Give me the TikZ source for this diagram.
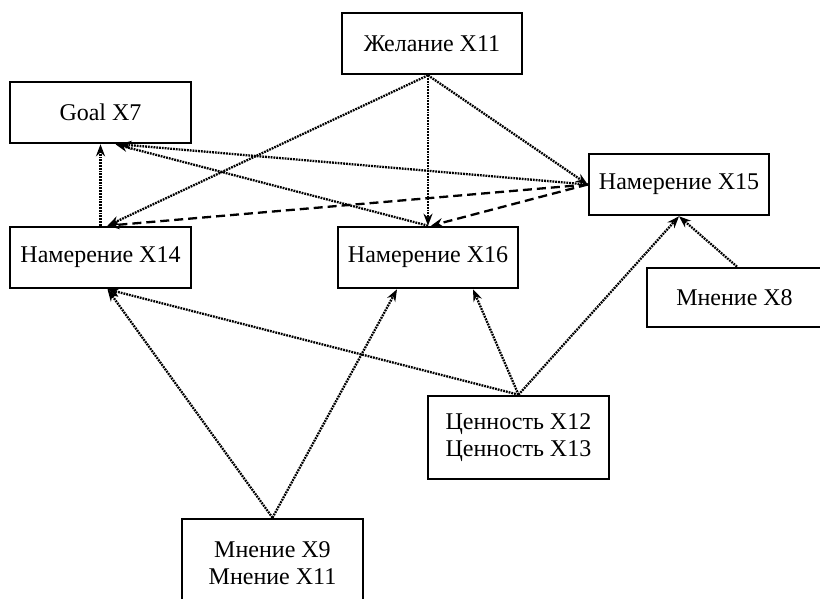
\documentclass[tikz,border=0pt]{standalone}
\usepackage{fontspec}
\setmainfont{Liberation Serif}
\usetikzlibrary{arrows.meta}
\begin{document}
\begin{tikzpicture}[x=1pt,y=-1pt,
  box/.style={draw, line width=2.6pt, rectangle, inner sep=0pt, align=center,
    font=\fontsize{24}{27}\selectfont},
  dotarrow/.style={line width=2.3pt, dash pattern=on 1.8pt off 1.0pt,
    -{Stealth[length=12pt,width=9pt]}},
  dasharrow/.style={line width=2.3pt, dash pattern=on 9pt off 5pt,
    -{Stealth[length=12pt,width=9pt]}}]
\useasboundingbox (0,0) rectangle (820,599);
\node[box, minimum width=180pt, minimum height=61pt] (des) at (432,43.5) {Желание X11};
\node[box, minimum width=181pt, minimum height=61pt] (goal) at (100.5,112.5) {Goal X7};
\node[box, minimum width=180pt, minimum height=61pt] (x15) at (679,184.5) {Намерение X15};
\node[box, minimum width=181pt, minimum height=61pt] (x14) at (100.5,257.5) {Намерение X14};
\node[box, minimum width=180pt, minimum height=61pt] (x16) at (428,257.5) {Намерение X16};
\node[box, minimum width=178pt, minimum height=59pt] (x8) at (736,297.5) {\hspace*{-3pt}Мнение X8};
\node[box, minimum width=181pt, minimum height=83pt] (val) at (518.5,437.5) {Ценность X12\\Ценность X13};
\node[box, minimum width=181pt, minimum height=88pt] (op) at (272.5,563) {Мнение X9\\Мнение X11};
% connectors
\draw[dotarrow] (x14.north) -- (goal.south);
\draw[dotarrow] ([xshift=-4pt]des.south) -- ([xshift=7pt]x14.north);
\draw[dotarrow] ([xshift=-4pt]des.south) -- (x16.north);
\draw[dotarrow] ([xshift=-4pt]des.south) -- (x15.west);
\draw[dotarrow] (x15.west) -- ([xshift=19pt]goal.south);
\draw[dotarrow] (x16.north) -- ([xshift=15pt]goal.south);
\draw[dasharrow] (x15.west) -- ([xshift=7pt]x14.north);
\draw[dasharrow] (x15.west) -- ([xshift=3pt]x16.north);
\draw[dotarrow] ([xshift=1pt]x8.north) -- (x15.south);
\draw[dotarrow] (val.north) -- (x15.south);
\draw[dotarrow] (val.north) -- ([xshift=45pt]x16.south);
\draw[dotarrow] (val.north) -- ([xshift=7pt]x14.south);
\draw[dotarrow] (op.north) -- ([xshift=7pt]x14.south);
\draw[dotarrow] (op.north) -- ([xshift=-31pt]x16.south);
\end{tikzpicture}
\end{document}
